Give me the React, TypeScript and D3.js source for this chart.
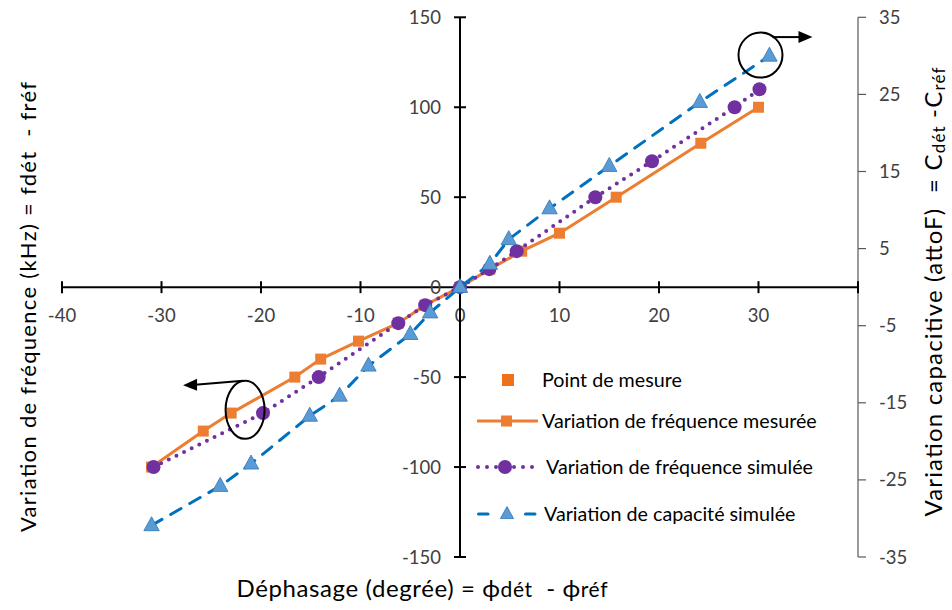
import React from "react";
import * as d3 from "d3";

// ---- data ----
const phaseMes = [-31, -25.8, -23, -16.6, -14, -10.2, -6.2, -3.5, 0, 3, 6.2, 10, 15.7, 24.2, 30];
const freqMes = [-100, -80, -70, -50, -40, -30, -20, -10, 0, 10, 20, 30, 50, 80, 100];

const phaseSim = [-30.8, -19.8, -14.2, -6.2, -3.5, 0, 2.95, 5.7, 13.6, 19.3, 27.6, 30.1];
const freqSim = [-100, -70, -50, -20, -10, 0, 10, 20, 50, 70, 100, 110];

const phaseCap = [-31, -24.1, -21, -15.1, -12.1, -9.2, -5, -3, 0, 3, 4.9, 9, 15, 24.1, 31.1];
const capSim = [-30.9, -25.8, -22.9, -16.7, -14.1, -10.2, -6.1, -3.3, 0, 3, 6.2, 10.2, 15.7, 24, 30];

const xTicks = [-40, -30, -20, -10, 0, 10, 20, 30, 40];
const yLeftTicks = [-150, -100, -50, 0, 50, 100, 150];
const yRightTicks = [-35, -25, -15, -5, 5, 15, 25, 35];

const legendLabels = [
  "Point de mesure",
  "Variation de fréquence mesurée",
  "Variation de fréquence simulée",
  "Variation de capacité simulée",
];

// annotation anchors in data units
const annotRight = { x: 30.2, y: 30.1 }; // right axis units
const annotLeft = { x: -21.6, y: -68.2 }; // left axis units

const W = 952;
const H = 610;
const FONT = "Lato, 'Open Sans', sans-serif";

const ORANGE = "#ED7D31";
const PURPLE = "#7030A0";
const BLUE = "#0070C0";
const TRI = "#5B9BD5";

export default function App() {
  const x = d3.scaleLinear().domain([-40, 40]).range([62, 858]);
  const yL = d3.scaleLinear().domain([-150, 150]).range([557, 17.3]);
  const yR = d3.scaleLinear().domain([-35, 35]).range([557, 17.3]);

  const mes = phaseMes.map((p, i) => [x(p), yL(freqMes[i])] as [number, number]);
  const sim = phaseSim.map((p, i) => [x(p), yL(freqSim[i])] as [number, number]);
  const cap = phaseCap.map((p, i) => [x(p), yR(capSim[i])] as [number, number]);
  const line = d3.line();

  const tri = (cx: number, cy: number, s: number) =>
    `M${cx},${cy - s * 0.62} L${cx + s * 0.55},${cy + s * 0.38} L${cx - s * 0.55},${cy + s * 0.38} Z`;

  const x0 = x(0);
  const y0 = yL(0);

  const arX = x(annotRight.x);
  const arY = yR(annotRight.y);
  const alX = x(annotLeft.x);
  const alY = yL(annotLeft.y);

  const legX = 477;
  const legTextX = 542;
  const legRows = [380, 421, 467, 514];

  const pre = { whiteSpace: "pre" as const };

  return (
    <svg
      width={W}
      height={H}
      style={{ position: "absolute", left: 0, top: 0, background: "#fff" }}
      fontFamily={FONT}
    >
      <rect width={W} height={H} fill="#fff" />

      {/* right axis */}
      <line x1={858} x2={858} y1={yR(35)} y2={yR(-35)} stroke="#595959" strokeWidth={1.2} />
      {yRightTicks.map((t) => (
        <g key={"r" + t}>
          <line x1={858} x2={866} y1={yR(t)} y2={yR(t)} stroke="#595959" strokeWidth={1.2} />
          <text x={879} y={yR(t) + 6.5} fontSize={18.5} fill="#404040">
            {t}
          </text>
        </g>
      ))}

      {/* x axis */}
      <line x1={x(-40)} x2={x(40)} y1={y0} y2={y0} stroke="#000" strokeWidth={2} />
      {xTicks.map((t) => (
        <g key={"x" + t}>
          <line x1={x(t)} x2={x(t)} y1={y0 - 6} y2={y0 + 6} stroke="#000" strokeWidth={2} />
          {t !== 40 && (
            <text x={x(t)} y={322} fontSize={18.5} textAnchor="middle" fill="#404040">
              {t}
            </text>
          )}
        </g>
      ))}

      {/* left y axis */}
      <line x1={x0} x2={x0} y1={yL(150)} y2={yL(-150)} stroke="#000" strokeWidth={2} />
      {yLeftTicks.map((t) => (
        <g key={"y" + t}>
          <line x1={x0 - 6} x2={x0 + 6} y1={yL(t)} y2={yL(t)} stroke="#000" strokeWidth={2} />
          <text x={441} y={yL(t) + 6.5} fontSize={18.5} textAnchor="end" fill="#404040">
            {t}
          </text>
        </g>
      ))}

      {/* series: measured */}
      <path d={line(mes) || ""} fill="none" stroke={ORANGE} strokeWidth={3} />
      {mes.map(([px, py], i) => (
        <rect key={"m" + i} x={px - 5.5} y={py - 5.5} width={11} height={11} fill={ORANGE} />
      ))}

      {/* series: simulated frequency */}
      <path
        d={line(sim) || ""}
        fill="none"
        stroke={PURPLE}
        strokeWidth={4}
        strokeDasharray="0 8.5"
        strokeLinecap="round"
      />
      {sim.map(([px, py], i) => (
        <circle key={"s" + i} cx={px} cy={py} r={7} fill={PURPLE} />
      ))}

      {/* series: simulated capacitance */}
      <path
        d={line(cap) || ""}
        fill="none"
        stroke={BLUE}
        strokeWidth={3}
        strokeDasharray="12 10"
        strokeLinecap="round"
      />
      {cap.map(([px, py], i) => (
        <path key={"c" + i} d={tri(px, py, 14)} fill={TRI} stroke="#2E75B6" strokeWidth={0.8} />
      ))}

      {/* annotations */}
      <ellipse cx={arX} cy={arY} rx={22} ry={22.5} fill="none" stroke="#000" strokeWidth={2} />
      <line x1={arX + 12} x2={arX + 40} y1={arY - 18} y2={arY - 18} stroke="#000" strokeWidth={2} />
      <path d={`M${arX + 52},${arY - 18} L${arX + 38},${arY - 24} L${arX + 38},${arY - 12} Z`} fill="#000" />

      <ellipse cx={alX} cy={alY} rx={19.5} ry={29} fill="none" stroke="#000" strokeWidth={2} />
      <line x1={alX - 2} x2={alX - 50} y1={alY - 29} y2={alY - 25} stroke="#000" strokeWidth={2} />
      <path
        d={`M${alX - 62},${alY - 24.5} L${alX - 48},${alY - 31} L${alX - 48},${alY - 19} Z`}
        fill="#000"
      />

      {/* legend */}
      <rect x={legX + 25} y={legRows[0] - 6} width={12} height={12} fill="#EE7218" />
      <line x1={legX} x2={legX + 61} y1={legRows[1]} y2={legRows[1]} stroke={ORANGE} strokeWidth={3} />
      <rect x={legX + 24} y={legRows[1] - 5.5} width={11} height={11} fill={ORANGE} />
      <line
        x1={legX + 1}
        x2={legX + 59}
        y1={legRows[2]}
        y2={legRows[2]}
        stroke={PURPLE}
        strokeWidth={4}
        strokeDasharray="0 9"
        strokeLinecap="round"
      />
      <circle cx={legX + 28} cy={legRows[2]} r={7} fill={PURPLE} />
      <line
        x1={legX + 1.5}
        x2={legX + 60}
        y1={legRows[3]}
        y2={legRows[3]}
        stroke={BLUE}
        strokeWidth={3}
        strokeDasharray="9.5 37.5"
        strokeLinecap="round"
      />
      <path d={tri(legX + 30, legRows[3], 12)} fill={TRI} stroke="#2E75B6" strokeWidth={0.8} />
      {legendLabels.map((l, i) => (
        <text
          key={l}
          x={legTextX + (i === 2 ? 4 : i === 3 ? 2 : 0)}
          y={legRows[i] + 7}
          fontSize={19.7}
          fill="#000"
        >
          {l}
        </text>
      ))}

      {/* axis titles */}
      <text
        x={422}
        y={597}
        fontSize={24}
        textAnchor="middle"
        fill="#000"
        style={pre}
        textLength={371}
        lengthAdjust="spacing"
      >
        {"Déphasage (degrée) = ϕ"}
        <tspan fontSize={21}>dét</tspan>
        {"  - ϕ"}
        <tspan fontSize={21}>réf</tspan>
      </text>
      <text
        transform={`translate(36,307) rotate(-90)`}
        fontSize={22}
        textAnchor="middle"
        fill="#000"
        style={pre}
        textLength={450}
        lengthAdjust="spacing"
      >
        {"Variation de fréquence (kHz) = fdét  - fréf"}
      </text>
      <text
        transform={`translate(942,292) rotate(-90)`}
        fontSize={24}
        textAnchor="middle"
        fill="#000"
        style={pre}
        textLength={449}
        lengthAdjust="spacing"
      >
        {"Variation capacitive (attoF)  = C"}
        <tspan fontSize={17} dy={3}>dét</tspan>
        <tspan dy={-3}>{" -C"}</tspan>
        <tspan fontSize={17} dy={3}>réf</tspan>
      </text>
    </svg>
  );
}
